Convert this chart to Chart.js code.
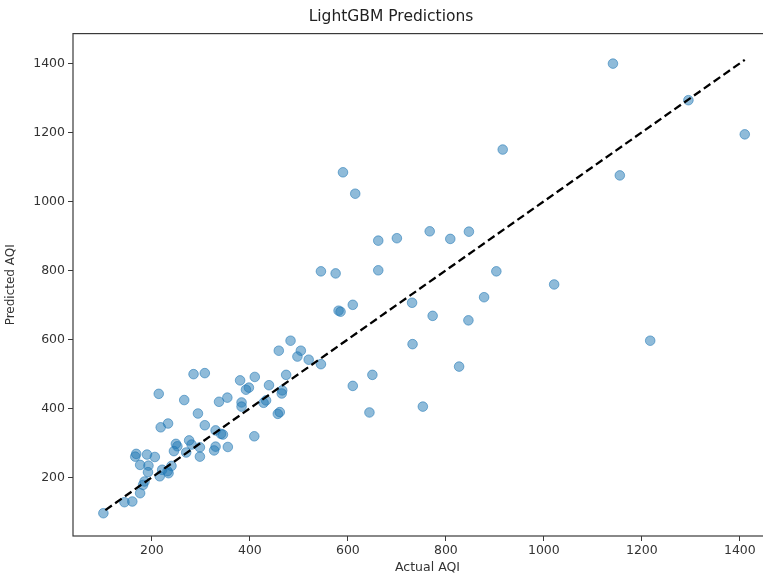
<!DOCTYPE html>
<html>
<head>
<meta charset="utf-8">
<script src="https://cdn.jsdelivr.net/npm/chart.js@4"></script>
<style>
  html, body { margin: 0; padding: 0; background: #fff; overflow: hidden; }
  #wrap { width: 790px; height: 575px; }
</style>
</head>
<body>
<div id="wrap"><canvas id="myChart" width="790" height="575"></canvas></div>
<script>
// actual vs predicted AQI
const actualAQI = [
    101, 144, 160, 176, 182, 185, 168, 166, 190, 206, 176, 193, 192, 216, 221, 234,
    214, 218, 233, 266, 285, 308, 294, 308, 249, 252, 245, 240, 232, 276, 281, 270,
    298, 298, 330, 341, 345, 330, 327, 355, 337, 354, 380, 410, 392, 398, 383, 383,
    428, 433, 409, 439, 459, 474, 466, 465, 457, 461, 483, 504, 497, 520, 545, 581,
    585, 610, 610, 650, 644, 590, 615, 916, 1141, 1295, 1410, 1155, 545, 575, 662, 662,
    700, 767, 809, 847, 903, 1021, 731, 878, 773, 846, 732, 827, 753, 1217
];
const predictedAQI = [
    96, 128, 130, 154, 178, 188, 268, 260, 266, 259, 236, 234, 215, 203, 222, 212,
    442, 345, 356, 424, 499, 502, 385, 351, 297, 290, 276, 233, 218, 307, 295, 272,
    287, 260, 336, 326, 324, 289, 278, 288, 419, 431, 481, 491, 454, 460, 417, 405,
    416, 423, 319, 467, 567, 497, 452, 443, 384, 389, 596, 567, 550, 541, 528, 683,
    680, 700, 465, 497, 388, 1084, 1022, 1150, 1399, 1293, 1194, 1075, 797, 791, 886, 800,
    893, 913, 891, 912, 797, 759, 706, 722, 668, 655, 586, 521, 405, 596
];
const idealLine = [105, 1410];
const xTicks = [200, 400, 600, 800, 1000, 1200, 1400];
const yTicks = [200, 400, 600, 800, 1000, 1200, 1400];

const TEXT_COLOR = '#333';
const AXIS_COLOR = '#3a3a3a';
const FONT = '"DejaVu Sans", sans-serif';


function buildPoints() {
    let points = [];
    for (let i = 0; i < actualAQI.length; i++) {
        points.push({ x: actualAQI[i], y: predictedAQI[i] });
    }
    return points;
}


function buildLine() {
    return idealLine.map(v => ({ x: v, y: v }));
}


const frame = {  // full box round the plot like matplotlib spines
    id: 'frame',
    afterDatasetsDraw(chart) {
        const a = chart.chartArea;
        const ctx = chart.ctx;
        ctx.save();
        ctx.strokeStyle = AXIS_COLOR;
        ctx.lineWidth = 1.2;
        ctx.strokeRect(a.left, a.top, a.right - a.left, a.bottom - a.top);
        ctx.restore();
    }
};


function drawChart() {
    const ctx = document.getElementById('myChart').getContext('2d');
    new Chart(ctx, {
        data: {
            datasets: [{
                type: 'line',
                data: buildLine(),
                borderColor: '#000',
                borderWidth: 2.3,
                borderDash: [8, 4],
                pointRadius: 0,
                fill: false,
                order: 0
            }, {
                type: 'scatter',
                data: buildPoints(),
                backgroundColor: 'rgba(31,119,180,0.5)',
                borderColor: 'rgba(31,119,180,0.55)',
                borderWidth: 1,
                pointRadius: 4.8,
                order: 1
            }]
        },
        options: {
            responsive: false,
            animation: false,
            layout: { padding: { left: 0, right: 8, top: 0, bottom: 0 } },
            plugins: {
                legend: { display: false },
                tooltip: { enabled: false },
                title: {
                    display: true,
                    text: 'LightGBM Predictions',
                    color: '#222',
                    font: { family: FONT, size: 15.5, weight: 'normal' },
                    padding: { top: 8, bottom: 7 }
                }
            },
            scales: {
                x: {
                    type: 'linear',
                    min: 39,
                    max: 1486,
                    afterBuildTicks: axis => { axis.ticks = xTicks.map(v => ({ value: v })); },
                    afterFit: axis => { axis.height = 39; },
                    grid: { drawOnChartArea: false, drawTicks: true, tickLength: 5, color: AXIS_COLOR },
                    border: { display: false },
                    ticks: {
                        color: TEXT_COLOR,
                        font: { family: FONT, size: 12.5 },
                        padding: 2,
                        maxRotation: 0,
                        callback: v => String(v)
                    },
                    title: {
                        display: true,
                        text: 'Actual AQI',
                        color: TEXT_COLOR,
                        font: { family: FONT, size: 12.5 },
                        padding: { top: 0, bottom: 0 }
                    }
                },
                y: {
                    type: 'linear',
                    min: 30,
                    max: 1486,
                    afterBuildTicks: axis => { axis.ticks = yTicks.map(v => ({ value: v })); },
                    afterFit: axis => { axis.width = 73; },
                    grid: { drawOnChartArea: false, drawTicks: true, tickLength: 5, color: AXIS_COLOR },
                    border: { display: false },
                    ticks: {
                        color: TEXT_COLOR,
                        font: { family: FONT, size: 12.5 },
                        padding: 3,
                        callback: v => String(v)
                    },
                    title: {
                        display: true,
                        text: 'Predicted AQI',
                        color: TEXT_COLOR,
                        font: { family: FONT, size: 12 },
                        padding: { top: 4, bottom: 0 }
                    }
                }
            }
        },
        plugins: [frame]
    });
}


drawChart();
</script>
</body>
</html>
